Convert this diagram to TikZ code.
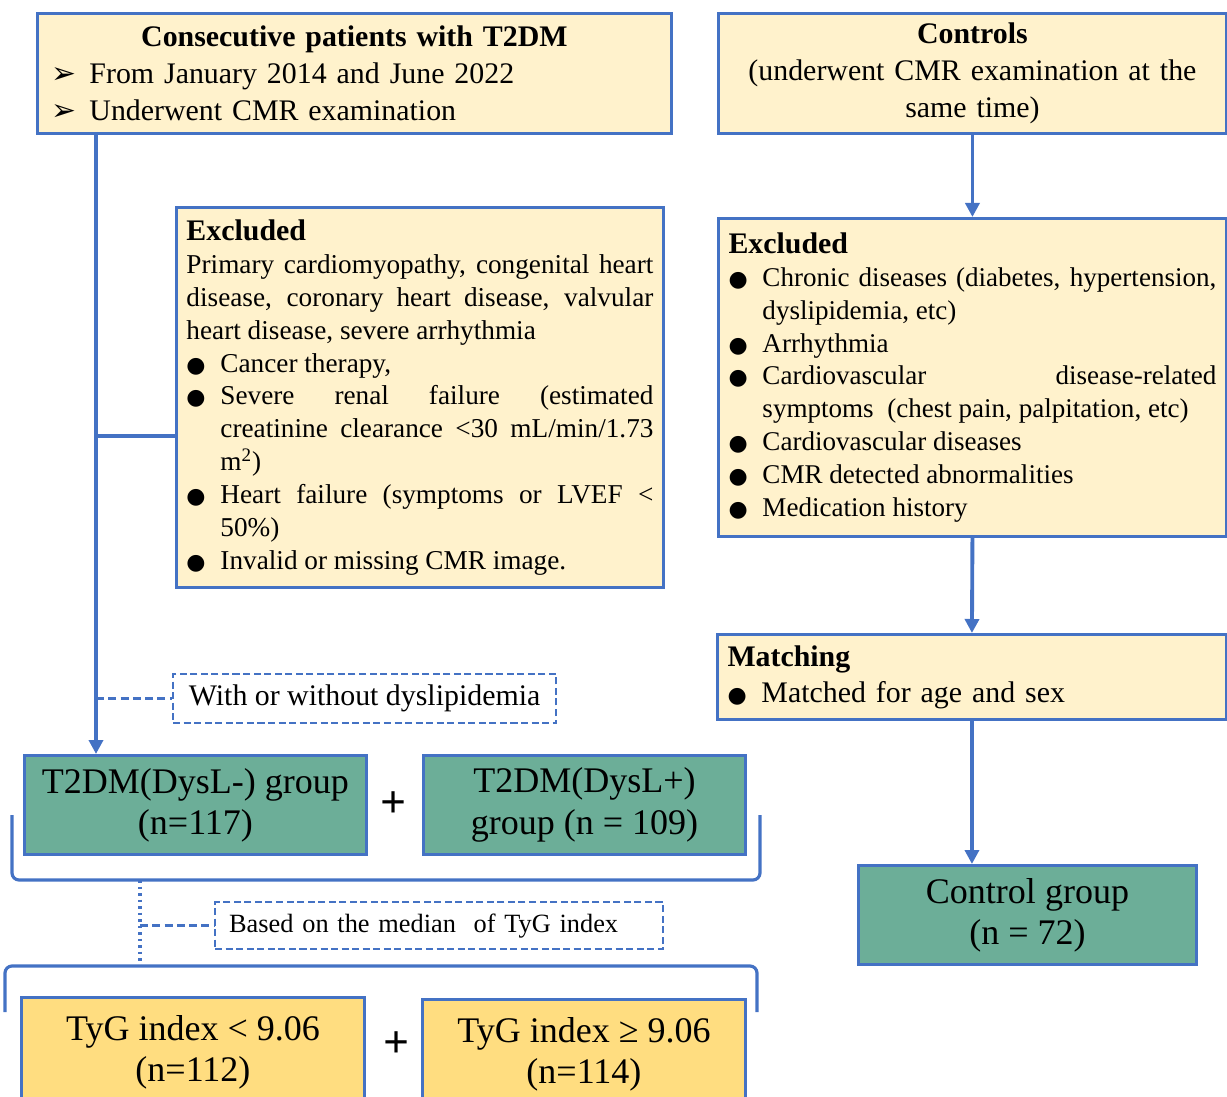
\documentclass[tikz,border=0pt]{standalone}
\usepackage{fontspec}
\setmainfont{Liberation Serif}
\newfontfamily\symfont{DejaVu Sans}
\usepackage{xcolor}
\usetikzlibrary{arrows.meta}
\definecolor{flowblue}{HTML}{4472C4}
\definecolor{flowcream}{HTML}{FFF2CC}
\definecolor{flowgreen}{HTML}{6CAE98}
\definecolor{flowyellow}{HTML}{FFDD80}
\newcommand{\arrowpt}{\noindent\makebox[0.76cm][l]{\symfont\fontsize{17}{17}\selectfont ➢}}
\newcommand{\dotpt}{\par\noindent\hangindent=0.68cm\hangafter=1\makebox[0.68cm][l]{\symfont\fontsize{12.5}{12}\selectfont ●}}
\tikzset{
  infobox/.style={draw=flowblue, line width=1.7pt, fill=flowcream, anchor=north west, inner xsep=0.2cm, inner ysep=0.1cm},
  grpbox/.style={draw=flowblue, line width=1.7pt, fill=flowgreen, anchor=north west, align=center, font=\fontsize{20.5}{23.5}\selectfont},
  tygbox/.style={grpbox, fill=flowyellow},
  dashbox/.style={draw=flowblue, line width=1.3pt, dash pattern=on 4pt off 2pt, fill=white, anchor=north west},
  plusmark/.style={font=\fontsize{26}{30}\selectfont\bfseries, inner sep=0pt},
  flowline/.style={draw=flowblue, line width=2.2pt},
  dashlink/.style={draw=flowblue, line width=1.8pt, dash pattern=on 4.5pt off 2.5pt}
}

\begin{document}
\begin{tikzpicture}[x=0.02cm, y=-0.02cm, >={Triangle[length=0.28cm, width=0.28cm]}]
\clip (0,0) rectangle (1227,1097);
\node[infobox, inner xsep=0.28cm, text width=12.12cm, minimum height=2.4cm, align=left, font=\fontsize{17}{21}\selectfont] (pat) at (36,12) {\centerline{\bfseries Consecutive patients with T2DM}
\arrowpt From January 2014 and June 2022\par
\arrowpt Underwent CMR examination};
\node[infobox, text width=9.76cm, minimum height=2.4cm, align=center, font=\fontsize{17}{21}\selectfont] (ctrl) at (717,12) {\textbf{Controls}\\(underwent CMR examination at the\\same time)};
\node[infobox, text width=9.34cm, minimum height=7.6cm, align=justify, font=\fontsize{15.5}{18.7}\selectfont] (exl) at (175,206) {\noindent{\fontsize{17}{18.7}\selectfont\bfseries Excluded}\par
\noindent Primary cardiomyopathy, congenital heart\linebreak disease, coronary heart disease, valvular\linebreak heart disease, severe arrhythmia
\dotpt Cancer therapy,
\dotpt Severe renal failure (estimated\linebreak creatinine clearance <30 mL/min/1.73\linebreak m\textsuperscript{2})
\dotpt Heart failure (symptoms or LVEF <\linebreak 50\%)
\dotpt Invalid or missing CMR image.};
\node[infobox, text width=9.76cm, minimum height=6.36cm, align=justify, font=\fontsize{15.4}{18.7}\selectfont] (exr) at (717,217) {\noindent{\fontsize{17}{18.7}\selectfont\bfseries Excluded}
\dotpt Chronic diseases (diabetes, hypertension,\linebreak dyslipidemia, etc)
\dotpt Arrhythmia
\dotpt Cardiovascular disease-related\linebreak symptoms\ \ (chest pain, palpitation, etc)
\dotpt Cardiovascular diseases
\dotpt CMR detected abnormalities
\dotpt Medication history};
\node[infobox, text width=9.78cm, minimum height=1.7cm, align=left, font=\fontsize{17}{20.5}\selectfont] (match) at (716,633) {\noindent\textbf{Matching}
\dotpt Matched for age and sex};
\node[dashbox, minimum width=7.66cm, minimum height=0.98cm, font=\fontsize{17}{20}\selectfont] (dys) at (172,673) {With or without dyslipidemia};
\node[grpbox, minimum width=6.84cm, minimum height=1.98cm] (dneg) at (23,754) {T2DM(DysL-) group\\(n=117)};
\node[grpbox, minimum width=6.44cm, minimum height=1.98cm] (dpos) at (422,754) {T2DM(DysL+)\\group (n = 109)};
\node[plusmark] (plus1) at (394,805) {+};
\node[dashbox, inner xsep=0.28cm, text width=8.4cm, minimum height=0.94cm, align=left, font=\fontsize{15}{18}\selectfont] (based) at (214,901) {Based on the median\ \ of TyG index};
\node[tygbox, minimum width=6.86cm, minimum height=2.18cm] (tyglo) at (20,996) {TyG index < 9.06\\(n=112)};
\node[tygbox, minimum width=6.46cm, minimum height=2.18cm] (tyghi) at (421,998) {TyG index ≥ 9.06\\(n=114)};
\node[plusmark] (plus2) at (397,1045) {+};
\node[grpbox, minimum width=6.76cm, minimum height=1.98cm] (cgrp) at (857,864) {Control group\\(n = 72)};
%left side
\coordinate (trunk) at (96,132);
\coordinate (exljoin) at (175,436);
\draw[flowline,->] (trunk) -- (trunk |- dneg.north);
\draw[flowline] (trunk |- exljoin) -- (exljoin);
\draw[dashlink] (trunk |- dys.west) -- (dys.west);
\draw[flowline, line width=1.8pt, rounded corners=4pt] (12,815) -- (12,880) -- (760,880) -- (760,815);
\coordinate (brtop) at (140,880);
\coordinate (brbot) at (140,966);
\draw[dashlink, dash pattern=on 1.7pt off 2pt] (brtop) -- (brbot);
\draw[dashlink] (brtop |- based.west) -- (based.west);
\draw[flowline, line width=1.8pt, rounded corners=4pt] (5,1012) -- (5,966) -- (757,966) -- (757,1012);
%right side
\draw[flowline,->] (ctrl.south) -- (exr.north);
\draw[flowline,->] (exr.south) -- (match.north);
\draw[flowline,->] (match.south) -- (match.south |- cgrp.north);
\end{tikzpicture}
\end{document}
